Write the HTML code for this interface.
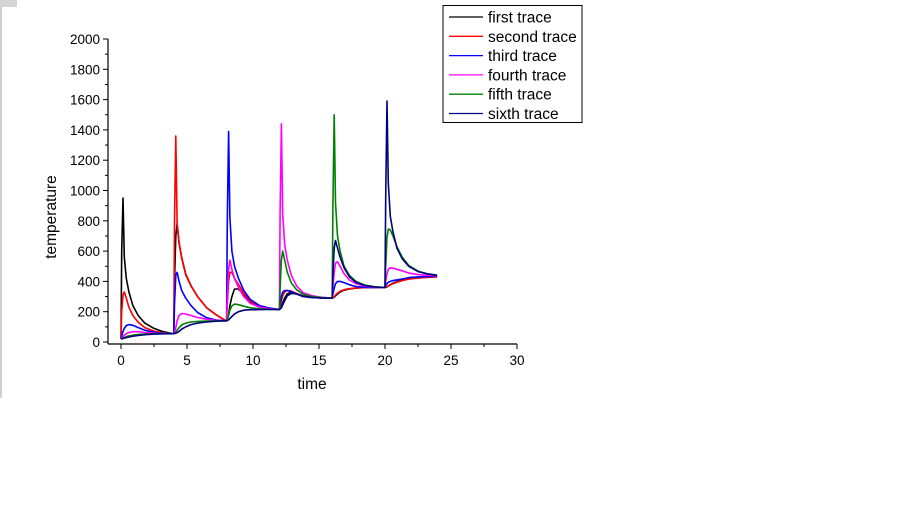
<!DOCTYPE html>
<html><head><meta charset="utf-8"><style>
body{margin:0;background:#fff;width:900px;height:506px;overflow:hidden}
svg{display:block;font-family:"Liberation Sans",sans-serif}
</style></head><body>
<svg id="chart" width="900" height="506">
<rect x="0" y="0" width="17" height="7" fill="#d4d4d4"/>
<line x1="1" y1="7" x2="1" y2="398" stroke="#a0a0a0"/>
<g id="axes"></g>
<g id="series"></g>
<text x="312" y="389" font-size="15.5" text-anchor="middle">time</text>
<text x="0" y="0" font-size="15.5" text-anchor="middle" transform="translate(56,217) rotate(-90)">temperature</text>
<g id="legend"></g>
</svg>
<script>
const segStarts = [0,4,8,12,16,20];
const offsets = [0,0.05,0.15,0.25,0.4,0.6,0.9,1.3,1.8,2.5,3.2,3.95];
const traceNames = ["first trace","second trace","third trace","fourth trace","fifth trace","sixth trace"];
const traceColors = ["#000000","#ff0000","#0000ff","#ff00ff","#008000","#000080"];
const xTicks = [0,5,10,15,20,25,30];
const yTicks = [0,200,400,600,800,1000,1200,1400,1600,1800,2000];
const first = [
 20,600,950,560,420,330,240,175,125,90,68,55,
 55,400,700,780,650,555,445,370,300,225,180,140,
 140,148,180,240,300,350,350,310,265,235,220,215,
 215,220,232,258,290,318,330,320,302,294,291,290,
 290,291,295,305,316,330,342,350,356,359,360,360,
 360,361,364,370,378,388,398,408,417,424,428,432];
const second = [
 20,200,310,330,290,230,175,130,95,72,60,55,
 55,800,1360,785,655,560,450,372,300,225,180,140,
 140,250,400,460,460,420,380,320,270,238,222,215,
 215,235,270,305,330,340,336,320,302,294,291,290,
 290,292,298,310,322,335,345,352,357,359,360,360,
 360,361,363,368,376,385,395,405,415,422,427,430];
const third = [
 20,40,70,90,108,115,110,95,78,64,58,55,
 55,250,440,460,400,340,290,240,195,160,145,140,
 140,800,1390,820,600,500,420,340,280,240,225,215,
 215,250,300,330,340,340,332,316,300,293,291,290,
 290,315,355,385,400,400,392,378,366,361,360,360,
 360,372,385,395,400,405,410,416,425,430,432,435];
const fourth = [
 20,25,35,45,55,63,68,68,63,58,56,55,
 55,65,95,140,175,188,185,175,162,150,143,140,
 140,300,480,540,480,420,360,300,255,230,220,215,
 215,850,1440,850,640,540,440,370,325,305,295,290,
 290,360,460,520,530,500,450,410,385,368,362,360,
 360,400,450,480,490,488,480,470,455,445,440,438];
const fifth = [
 20,22,26,30,35,40,45,50,53,54,55,55,
 55,57,65,78,95,112,125,132,136,138,139,140,
 140,150,175,210,238,250,246,236,226,219,216,215,
 215,350,540,600,540,460,390,345,315,300,293,290,
 290,900,1500,920,700,600,500,440,400,375,365,360,
 360,500,690,745,740,700,630,560,505,468,450,440];
const sixth = [
 20,21,23,26,29,33,38,43,48,52,54,55,
 55,56,58,62,70,85,100,115,125,132,137,140,
 140,142,146,155,168,185,200,210,213,214,215,215,
 215,218,226,245,272,305,320,318,302,294,291,290,
 290,450,620,670,620,560,490,430,395,372,363,360,
 360,950,1590,1050,830,730,620,550,500,465,450,440];
const seriesData = [first,second,third,fourth,fifth,sixth];

const NS="http://www.w3.org/2000/svg";
const X0=121, XS=13.2, Y0=342, YS=303/2000, AXY=344, AXX=108;
function xp(v){return X0+v*XS;}
function yp(v){return Y0-v*YS;}
function mk(tag,attrs,parent){const e=document.createElementNS(NS,tag);for(const k in attrs)e.setAttribute(k,attrs[k]);parent.appendChild(e);return e;}

const axes=document.getElementById('axes');
let l=mk('line',{x1:AXX,y1:yp(2000),x2:AXX,y2:AXY,stroke:'#000','stroke-width':1.2},axes);


l=mk('line',{x1:AXX,y1:AXY,x2:xp(30),y2:AXY,stroke:'#000','stroke-width':1.2},axes);


yTicks.forEach((v,i)=>{
  const t=mk('line',{x1:AXX-5,y1:yp(v),x2:AXX,y2:yp(v),stroke:'#000'},axes);
  
  
  if(i<yTicks.length-1){const m=mk('line',{x1:AXX-3,y1:yp(v+100),x2:AXX,y2:yp(v+100),stroke:'#000'},axes);
    
    }
  const tx=mk('text',{x:AXX-8,y:yp(v)+5,'font-size':13.5,'text-anchor':'end'},axes);
  tx.textContent=v;
  
  
});
xTicks.forEach((v,i)=>{
  const t=mk('line',{x1:xp(v),y1:AXY,x2:xp(v),y2:AXY+5,stroke:'#000'},axes);
  
  
  if(i<xTicks.length-1){const m=mk('line',{x1:xp(v+2.5),y1:AXY,x2:xp(v+2.5),y2:AXY+3,stroke:'#000'},axes);
    
    }
  const tx=mk('text',{x:xp(v),y:365,'font-size':13.5,'text-anchor':'middle'},axes);
  tx.textContent=v;
  
  
});

const times=[];
segStarts.forEach(s=>offsets.forEach(o=>times.push(s+o)));
const sg=document.getElementById('series');
[0,1,2,3,4,5].forEach(i=>{
  const vals=seriesData[i];
  const pts=vals.map((v,j)=>xp(times[j]).toFixed(1)+','+yp(v).toFixed(1)).join(' ');
  const p=mk('polyline',{points:pts,fill:'none',stroke:traceColors[i],'stroke-width':1.6,'stroke-linejoin':'round'},sg);
  
  
});

const lg=document.getElementById('legend');
const box=mk('rect',{x:443,y:5.5,width:139,height:117,fill:'#fff',stroke:'#000','stroke-width':1},lg);


traceNames.forEach((n,i)=>{
  const y=17+i*19.3;
  const ln=mk('line',{x1:449,y1:y,x2:483,y2:y,stroke:traceColors[i],'stroke-width':1.3},lg);
  
  
  const tx=mk('text',{x:488,y:y+5.5,'font-size':15.5},lg);
  tx.textContent=n;
  
  
});
</script>
</body></html>
